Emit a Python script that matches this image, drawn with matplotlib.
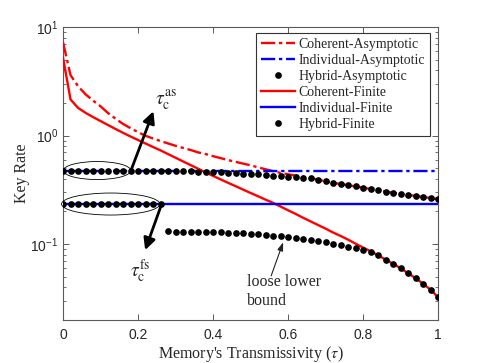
import numpy as np
import matplotlib
matplotlib.use('Agg')
import matplotlib.pyplot as plt
from matplotlib.patches import Ellipse
from matplotlib.lines import Line2D
from matplotlib.ticker import LogLocator, FixedLocator, FuncFormatter

# ---------------- data ----------------
tau = [0.00, 0.02, 0.04, 0.06, 0.08, 0.10, 0.12, 0.14, 0.16, 0.18,
       0.20, 0.22, 0.24, 0.26, 0.28, 0.30, 0.32, 0.34, 0.36, 0.38,
       0.40, 0.42, 0.44, 0.46, 0.48, 0.50, 0.52, 0.54, 0.56, 0.58,
       0.60, 0.62, 0.64, 0.66, 0.68, 0.70, 0.72, 0.74, 0.76, 0.78,
       0.80, 0.82, 0.84, 0.86, 0.88, 0.90, 0.92, 0.94, 0.96, 0.98, 1.00]

coherent_asym = [7.2, 3.6, 2.85, 2.4, 2.1, 1.86, 1.61, 1.43, 1.28, 1.17,
                 1.075, 0.995, 0.94, 0.89, 0.846, 0.805, 0.77, 0.737, 0.70, 0.676,
                 0.646, 0.62, 0.595, 0.573, 0.552, 0.532, 0.51, 0.489, 0.47, 0.453,
                 0.44, 0.428, 0.418, 0.406, 0.392, 0.379, 0.367, 0.358, 0.349, 0.34,
                 0.331, 0.322, 0.313, 0.305, 0.297, 0.29, 0.284, 0.278, 0.272, 0.266, 0.26]

coherent_fin = [5.2, 2.15, 1.80, 1.62, 1.48, 1.36, 1.25, 1.15, 1.06, 0.98,
                0.91, 0.845, 0.785, 0.73, 0.675, 0.625, 0.578, 0.535, 0.495, 0.458,
                0.425, 0.395, 0.367, 0.342, 0.318, 0.296, 0.276, 0.257, 0.24, 0.222,
                0.205, 0.19, 0.175, 0.162, 0.15, 0.139, 0.128, 0.119, 0.11, 0.101,
                0.093, 0.086, 0.079, 0.072, 0.066, 0.06, 0.054, 0.0486, 0.0432, 0.038, 0.0325]

hybrid_asym = [0.476, 0.476, 0.476, 0.476, 0.476, 0.476, 0.476, 0.476, 0.476, 0.476,
               0.476, 0.476, 0.476, 0.476, 0.475, 0.472, 0.469, 0.467, 0.465, 0.463,
               0.461, 0.458, 0.455, 0.451, 0.447, 0.443, 0.438, 0.433, 0.427, 0.421,
               0.416, 0.412, 0.409, 0.406, 0.392, 0.379, 0.367, 0.358, 0.349, 0.34,
               0.331, 0.322, 0.313, 0.305, 0.297, 0.29, 0.284, 0.278, 0.272, 0.266, 0.26]

hybrid_fin = [0.234, 0.234, 0.234, 0.234, 0.234, 0.234, 0.234, 0.234, 0.234, 0.234,
              0.234, 0.234, 0.234, 0.234, 0.131, 0.1305, 0.130, 0.1298, 0.1295, 0.129,
              0.1285, 0.128, 0.1275, 0.127, 0.126, 0.125, 0.1235, 0.122, 0.120, 0.118,
              0.116, 0.114, 0.1115, 0.109, 0.1065, 0.104, 0.101, 0.098, 0.095, 0.092,
              0.089, 0.085, 0.079, 0.072, 0.066, 0.06, 0.054, 0.0486, 0.0432, 0.038, 0.0325]

tau_ends = [0.0, 1.0]
individual_asym = [0.476, 0.476]
individual_fin = [0.234, 0.234]

labels = ['Coherent-Asymptotic', 'Individual-Asymptotic', 'Hybrid-Asymptotic',
          'Coherent-Finite', 'Individual-Finite', 'Hybrid-Finite']
x_ticks = [0, 0.2, 0.4, 0.6, 0.8, 1]

# ---------------- style ----------------
plt.rcParams['mathtext.fontset'] = 'stix'
SERIF = 'Liberation Serif'
SANS = 'Liberation Sans'
AXC = '#5a5a5a'
RED = '#ff0000'
BLUE = '#0000ff'
dashdot = (0, (6, 1.6, 1.4, 1.6))

fig = plt.figure(figsize=(4.85, 3.63), dpi=100)
ax = fig.add_axes([0.130, 0.1185, 0.7731, 0.8071])

lw = 1.7
ax.plot(tau, coherent_asym, color=RED, lw=lw, ls=dashdot, zorder=3)
ax.plot(tau_ends, individual_asym, color=BLUE, lw=lw, ls=dashdot, zorder=3)
ax.plot(tau, coherent_fin, color=RED, lw=lw, ls='-', zorder=3)
ax.plot(tau_ends, individual_fin, color=BLUE, lw=lw, ls='-', zorder=3)
ax.plot(tau, hybrid_asym, ls='none', marker='o', ms=3.8, color='k', zorder=4)
ax.plot(tau, hybrid_fin, ls='none', marker='o', ms=3.8, color='k', zorder=4)

ax.set_yscale('log')
ax.set_xlim(0, 1)
ax.set_ylim(0.02, 10)

ax.xaxis.set_major_locator(FixedLocator(x_ticks))
ax.xaxis.set_major_formatter(FuncFormatter(lambda v, p: ('%g' % v)))
ax.yaxis.set_major_locator(LogLocator(base=10, numticks=10))
ax.yaxis.set_minor_locator(LogLocator(base=10, subs=np.arange(2, 10), numticks=20))


def yfmt(v, p):
    e = int(round(np.log10(v)))
    return r'$\mathregular{10^{%d}}$' % e


ax.yaxis.set_major_formatter(FuncFormatter(yfmt))
ax.tick_params(which='both', direction='in', top=True, right=True, color=AXC,
               labelcolor='#262626', labelsize=10)
ax.tick_params(which='major', length=4.5, width=0.7)
ax.tick_params(which='minor', length=2.5, width=0.6)
ax.tick_params(axis='x', pad=6)
for lab in ax.get_xticklabels() + ax.get_yticklabels():
    lab.set_family(SANS)
for s in ax.spines.values():
    s.set_color(AXC)
    s.set_linewidth(0.8)

ax.set_xlabel(r"Memory's Transmissivity ($\tau$)", family=SERIF, fontsize=11.5,
              color='#262626', labelpad=1)
ax.set_ylabel('Key Rate', family=SERIF, fontsize=11.5, color='#262626', labelpad=0)

# legend
handles = [
    Line2D([], [], color=RED, lw=lw, ls=dashdot),
    Line2D([], [], color=BLUE, lw=lw, ls=dashdot),
    Line2D([], [], color='k', ls='none', marker='o', ms=3.8),
    Line2D([], [], color=RED, lw=lw),
    Line2D([], [], color=BLUE, lw=lw),
    Line2D([], [], color='k', ls='none', marker='o', ms=3.8),
]
leg = ax.legend(handles, labels, loc='upper right', bbox_to_anchor=(0.979, 0.979),
                borderaxespad=0, prop={'family': SERIF, 'size': 10},
                handlelength=2.5, handletextpad=0.25, labelspacing=0.22,
                borderpad=0.35, fancybox=False, framealpha=1, edgecolor='#333333')
leg.get_frame().set_linewidth(0.8)
for t in leg.get_texts():
    t.set_color('#262626')

fig.canvas.draw()


def d2a(x, y):
    return ax.transAxes.inverted().transform(ax.transData.transform((x, y)))


ax_h_px = ax.get_window_extent().height
# ellipses around the coinciding hybrid dots
c1 = d2a(0.0907, 0.476)
ax.add_patch(Ellipse(c1, 0.18, 18 / ax_h_px, transform=ax.transAxes, fill=False,
                     ec='k', lw=0.6, zorder=5, clip_on=False))
c2 = d2a(0.127, 0.234)
ax.add_patch(Ellipse(c2, 0.262, 22 / ax_h_px, transform=ax.transAxes, fill=False,
                     ec='k', lw=0.6, zorder=5, clip_on=False))

# arrows
ax.annotate('', xy=(0.241, 1.675), xytext=(0.181, 0.476),
            arrowprops=dict(arrowstyle='-|>,head_length=0.7,head_width=0.35', lw=2,
                            color='k', shrinkA=0, shrinkB=0), zorder=6)
ax.annotate('', xy=(0.219, 0.088), xytext=(0.263, 0.234),
            arrowprops=dict(arrowstyle='-|>,head_length=0.7,head_width=0.35', lw=2,
                            color='k', shrinkA=0, shrinkB=0), zorder=6)
ax.annotate('', xy=(0.587, 0.104), xytext=(0.555, 0.051),
            arrowprops=dict(arrowstyle='-|>,head_length=0.5,head_width=0.17', lw=0.8,
                            color='#222222', shrinkA=0, shrinkB=0), zorder=6)

ax.text(0.245, 2.1, r'$\tau_{\rm c}^{\rm as}$', fontsize=14, ha='left', va='center',
        color='#262626')
ax.text(0.178, 0.056, r'$\tau_{\rm c}^{\rm fs}$', fontsize=14, ha='left', va='center',
        color='#262626')
ax.text(0.49, 0.0365, 'loose lower\nbound', family=SERIF, fontsize=11.5, ha='left',
        va='center', color='#262626', linespacing=1.3)

fig.savefig('out.png', dpi=100)
